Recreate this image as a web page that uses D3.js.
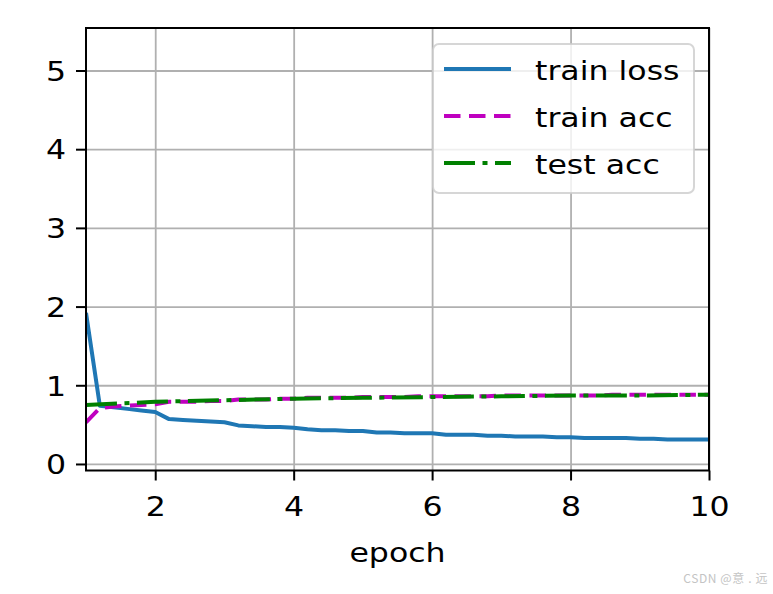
<!DOCTYPE html>
<html>
<head>
<meta charset="utf-8">
<title>train loss / acc</title>
<script src="https://d3js.org/d3.v7.min.js"></script>
<style>
  html, body { margin: 0; padding: 0; background: #fff; }
  svg { display: block; font-family: "DejaVu Sans", sans-serif; }
</style>
</head>
<body>
<svg width="773" height="594"></svg>
<script>
// data
const trainX = [1.0, 1.2, 1.4, 1.6, 1.8, 2.0, 2.2, 2.4, 2.6, 2.8, 3.0, 3.2, 3.4, 3.6, 3.8, 4.0,
  4.2, 4.4, 4.6, 4.8, 5.0, 5.2, 5.4, 5.6, 5.8, 6.0, 6.2, 6.4, 6.6, 6.8, 7.0, 7.2, 7.4, 7.6,
  7.8, 8.0, 8.2, 8.4, 8.6, 8.8, 9.0, 9.2, 9.4, 9.6, 9.8, 10.0];
const trainLoss = [1.92, 0.74, 0.72, 0.70, 0.68, 0.66, 0.57, 0.56, 0.55, 0.54, 0.53, 0.49, 0.48, 0.47, 0.47, 0.46,
  0.44, 0.43, 0.43, 0.42, 0.42, 0.40, 0.40, 0.39, 0.39, 0.39, 0.37, 0.37, 0.37, 0.36, 0.36, 0.35, 0.35, 0.35,
  0.34, 0.34, 0.33, 0.33, 0.33, 0.33, 0.32, 0.32, 0.31, 0.31, 0.31, 0.31];
const trainAcc = [0.53, 0.71, 0.73, 0.74, 0.75, 0.76, 0.79, 0.79, 0.79, 0.80, 0.80, 0.82, 0.82, 0.82, 0.83, 0.83,
  0.84, 0.84, 0.84, 0.84, 0.85, 0.85, 0.85, 0.85, 0.86, 0.86, 0.86, 0.86, 0.86, 0.86, 0.87, 0.87, 0.87, 0.87,
  0.87, 0.87, 0.87, 0.87, 0.88, 0.88, 0.88, 0.88, 0.88, 0.88, 0.88, 0.88];
const testX = [1, 2, 3, 4, 5, 6, 7, 8, 9, 10];
const testAcc = [0.75, 0.79, 0.81, 0.83, 0.84, 0.85, 0.86, 0.87, 0.87, 0.88];
const xTicks = [2, 4, 6, 8, 10];
const yTicks = [0, 1, 2, 3, 4, 5];
const legendLabels = ["train loss", "train acc", "test acc"];

const mLeft = 86, mRight = 709, mTop = 28, mBottom = 470.5;
const width = mRight - mLeft, height = mBottom - mTop;
const fontSize = 27, stretch = 1.17;

const svg = d3.select('svg');

const x = d3.scaleLinear().domain([1, 10]).range([0, width]);
const y = d3.scaleLinear().domain([-0.083, 5.54]).range([height, 0]);

const chart = svg.append('g').attr('transform', `translate(${mLeft}, ${mTop})`);

chart.append('clipPath').attr('id', 'clip')
  .append('rect').attr('width', width).attr('height', height);

// grid
chart.append('g')
  .attr('transform', `translate(0, ${height})`)
  .call(d3.axisBottom(x).tickValues(xTicks).tickSize(-height).tickFormat(''))
  .call(g => g.select('.domain').remove())
  .call(g => g.selectAll('line').attr('stroke', '#b0b0b0').attr('stroke-width', 1.8));

chart.append('g')
  .call(d3.axisLeft(y).tickValues(yTicks).tickSize(-width).tickFormat(''))
  .call(g => g.select('.domain').remove())
  .call(g => g.selectAll('line').attr('stroke', '#b0b0b0').attr('stroke-width', 1.8));

// lines
const series = [
  { xs: trainX, ys: trainLoss, color: '#1f77b4', dash: null },
  { xs: trainX, ys: trainAcc, color: '#bf00bf', dash: '16.5,8.5' },
  { xs: testX, ys: testAcc, color: '#008000', dash: '31,7.5,5,7.5' }
];

const line = d3.line().x(d => x(d[0])).y(d => y(d[1]));

const plot = chart.append('g').attr('clip-path', 'url(#clip)');
series.forEach(s => {
  plot.append('path')
    .datum(s.xs.map((v, i) => [v, s.ys[i]]))
    .attr('d', line)
    .attr('fill', 'none')
    .attr('stroke', s.color)
    .attr('stroke-width', 4)
    .attr('stroke-linejoin', 'round')
    .attr('stroke-dasharray', s.dash);
});

// axes with ticks and labels
chart.append('g')
  .attr('transform', `translate(0, ${height})`)
  .call(d3.axisBottom(x).tickValues(xTicks).tickSize(10).tickPadding(16).tickFormat(d3.format('d')))
  .call(g => g.select('.domain').remove())
  .call(g => g.selectAll('line').attr('stroke', '#000').attr('stroke-width', 2))
  .call(g => g.selectAll('text')
    .attr('fill', '#000')
    .style('font-size', fontSize + 'px')
    .style('font-family', '"DejaVu Sans"')
    .attr('transform', `scale(${stretch},1)`));

chart.append('g')
  .call(d3.axisLeft(y).tickValues(yTicks).tickSize(10).tickPadding(7.1).tickFormat(d3.format('d')))
  .call(g => g.select('.domain').remove())
  .call(g => g.selectAll('line').attr('stroke', '#000').attr('stroke-width', 2))
  .call(g => g.selectAll('text')
    .attr('fill', '#000')
    .attr('dy', '0.36em')
    .style('font-size', fontSize + 'px')
    .style('font-family', '"DejaVu Sans"')
    .attr('transform', `scale(${stretch},1)`));

// spines
chart.append('rect')
  .attr('width', width).attr('height', height)
  .attr('fill', 'none').attr('stroke', '#000').attr('stroke-width', 2);

// x label
svg.append('g')
  .attr('transform', `translate(${mLeft + width / 2}, 562)`)
  .append('text')
  .attr('text-anchor', 'middle')
  .attr('transform', `scale(${stretch},1)`)
  .style('font-size', fontSize + 'px')
  .text('epoch');

// legend
const legend = svg.append('g').attr('transform', 'translate(433, 44)');
legend.append('rect')
  .attr('width', 261).attr('height', 149)
  .attr('rx', 6).attr('ry', 6)
  .attr('fill', '#fff').attr('fill-opacity', 0.8)
  .attr('stroke', '#cccccc').attr('stroke-opacity', 0.8).attr('stroke-width', 2);

series.forEach((s, i) => {
  const row = legend.append('g').attr('transform', `translate(0, ${25 + i * 47})`);
  row.append('line')
    .attr('x1', 11).attr('x2', 78)
    .attr('stroke', s.color).attr('stroke-width', 4)
    .attr('stroke-dasharray', s.dash);
  row.append('g')
    .attr('transform', 'translate(102, 11)')
    .append('text')
    .attr('transform', `scale(${stretch},1)`)
    .style('font-size', fontSize + 'px')
    .text(legendLabels[i]);
});

// watermark
svg.append('text')
  .attr('x', 768).attr('y', 583)
  .attr('text-anchor', 'end')
  .attr('fill', '#c4c4c4')
  .style('font-size', '12px')
  .style('letter-spacing', '0.6px')
  .style('font-family', '"Noto Sans CJK SC", "DejaVu Sans", sans-serif')
  .text('CSDN @意 . 远');
</script>
</body>
</html>
